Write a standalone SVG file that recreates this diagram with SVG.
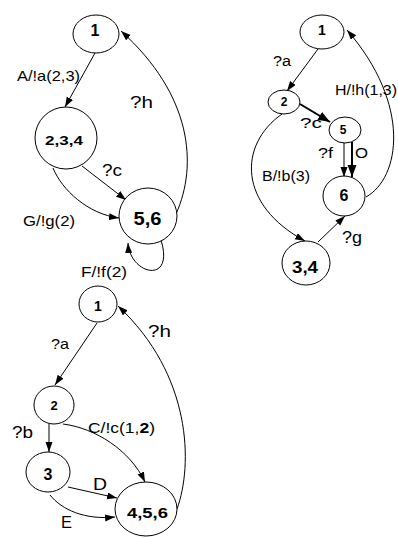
<svg xmlns="http://www.w3.org/2000/svg" width="398" height="538" viewBox="0 0 398 538">
<style>
.n{fill:#fff;stroke:#000;stroke-width:1}
.nt{font-family:"Liberation Sans",Arial,sans-serif;font-weight:bold;text-anchor:middle;fill:#000}
.l{font-family:"Liberation Sans",Arial,sans-serif;fill:#000}
.e{fill:none;stroke:#000;stroke-width:1;marker-end:url(#ah)}
.t{fill:none;stroke:#000;stroke-width:2;marker-end:url(#ahb)}
</style>
<defs>
<marker id="ah" markerUnits="userSpaceOnUse" markerWidth="11" markerHeight="8" refX="10" refY="3.5" orient="auto"><path d="M0,0 L10,3.5 L0,7 z" fill="#000"/></marker>
<marker id="ahb" markerUnits="userSpaceOnUse" markerWidth="13" markerHeight="10" refX="12" refY="4.5" orient="auto"><path d="M0,0 L12,4.5 L0,9 z" fill="#000"/></marker>
</defs>
<rect width="398" height="538" fill="#fff"/>
<g id="connectors">
<path class="e" d="M95 53 L65 107"/>
<path class="e" d="M82 166 L126 200"/>
<path class="e" d="M53 168 C62 190 88 214 119 218"/>
<path class="e" d="M176 214 C198 165 192 95 121 31"/>
<path class="e" d="M161 240 C175 285 130 275 128 243"/>
<path class="e" d="M318 49 L287 91"/>
<path class="e" d="M366 197 C400 178 412 105 347 30"/>
<path class="t" d="M300 104 L330 122"/>
<path class="e" d="M344 143 L344 177"/>
<path class="t" d="M352 142 L352 177"/>
<path class="e" d="M282 114 C238 145 238 205 305 241"/>
<path class="e" d="M318 242 L345 216"/>
<path class="e" d="M97 323 L55 385"/>
<path class="e" d="M177 509 C193 465 192 375 118 306"/>
<path class="e" d="M49 424 L49 452"/>
<path class="e" d="M63 424 C95 428 130 450 145 482"/>
<path class="e" d="M68 487 L117 498"/>
<path class="e" d="M50 495 C62 510 85 520 115 517"/>
</g>
<g id="labels">
<text class="l" x="17" y="81" font-size="15" textLength="63" lengthAdjust="spacingAndGlyphs">A/!a(2,3)</text>
<text class="l" x="130" y="108" font-size="16" textLength="23" lengthAdjust="spacingAndGlyphs">?h</text>
<text class="l" x="102" y="176" font-size="16" textLength="20" lengthAdjust="spacingAndGlyphs">?c</text>
<text class="l" x="23" y="226" font-size="15" textLength="52" lengthAdjust="spacingAndGlyphs">G/!g(2)</text>
<text class="l" x="81" y="277" font-size="15" textLength="46" lengthAdjust="spacingAndGlyphs">F/!f(2)</text>
<text class="l" x="273" y="66" font-size="14" textLength="18" lengthAdjust="spacingAndGlyphs">?a</text>
<text class="l" x="335" y="95" font-size="14" textLength="62" lengthAdjust="spacingAndGlyphs">H/!h(1,3)</text>
<text class="l" x="300" y="128" font-size="15" textLength="22" lengthAdjust="spacingAndGlyphs">?c</text>
<text class="l" x="318" y="158" font-size="15" textLength="15" lengthAdjust="spacingAndGlyphs">?f</text>
<text class="l" x="355" y="158" font-size="15" textLength="13" lengthAdjust="spacingAndGlyphs">O</text>
<text class="l" x="262" y="181" font-size="14" textLength="48" lengthAdjust="spacingAndGlyphs">B/!b(3)</text>
<text class="l" x="342" y="243" font-size="16" textLength="20" lengthAdjust="spacingAndGlyphs">?g</text>
<text class="l" x="51" y="349" font-size="15" textLength="18" lengthAdjust="spacingAndGlyphs">?a</text>
<text class="l" x="148" y="337" font-size="17" textLength="23" lengthAdjust="spacingAndGlyphs">?h</text>
<text class="l" x="12" y="438" font-size="16" textLength="21" lengthAdjust="spacingAndGlyphs">?b</text>
<text class="l" x="88" y="433" font-size="15" textLength="67" lengthAdjust="spacingAndGlyphs">C/!c(1,<tspan font-weight="bold">2</tspan>)</text>
<text class="l" x="93" y="490" font-size="17" textLength="14" lengthAdjust="spacingAndGlyphs">D</text>
<text class="l" x="61" y="528" font-size="17" textLength="11" lengthAdjust="spacingAndGlyphs">E</text>
</g>
<g id="a1"><ellipse class="n" cx="96" cy="34" rx="23" ry="19"/><text class="nt" x="95" y="36" font-size="16">1</text></g>
<g id="a234"><circle class="n" cx="66" cy="138" r="31"/><text class="nt" x="64" y="145" font-size="13" textLength="38" lengthAdjust="spacingAndGlyphs">2,3,4</text></g>
<g id="a56"><ellipse class="n" cx="148" cy="216" rx="29" ry="28"/><text class="nt" x="147.5" y="225" font-size="18" textLength="28" lengthAdjust="spacingAndGlyphs">5,6</text></g>
<g id="b1"><ellipse class="n" cx="322" cy="32" rx="22" ry="17"/><text class="nt" x="322" y="35" font-size="14">1</text></g>
<g id="b2"><ellipse class="n" cx="284" cy="102" rx="16" ry="12"/><text class="nt" x="284" y="106" font-size="12">2</text></g>
<g id="b5"><ellipse class="n" cx="345" cy="130" rx="16" ry="13"/><text class="nt" x="343" y="134" font-size="12">5</text></g>
<g id="b6"><ellipse class="n" cx="344" cy="196" rx="21" ry="20"/><text class="nt" x="344" y="201" font-size="16">6</text></g>
<g id="b34"><ellipse class="n" cx="306" cy="263" rx="24" ry="22"/><text class="nt" x="305" y="273" font-size="16" textLength="26" lengthAdjust="spacingAndGlyphs">3,4</text></g>
<g id="c1"><ellipse class="n" cx="98" cy="304" rx="19" ry="18"/><text class="nt" x="98" y="311" font-size="14">1</text></g>
<g id="c2"><ellipse class="n" cx="54" cy="405" rx="20" ry="19"/><text class="nt" x="54" y="410" font-size="13">2</text></g>
<g id="c3"><ellipse class="n" cx="48" cy="472" rx="22" ry="20"/><text class="nt" x="48" y="480" font-size="16">3</text></g>
<g id="c456"><ellipse class="n" cx="146" cy="509" rx="31" ry="27"/><text class="nt" x="147.5" y="518" font-size="15" textLength="41" lengthAdjust="spacingAndGlyphs">4,5,6</text></g>
</svg>
